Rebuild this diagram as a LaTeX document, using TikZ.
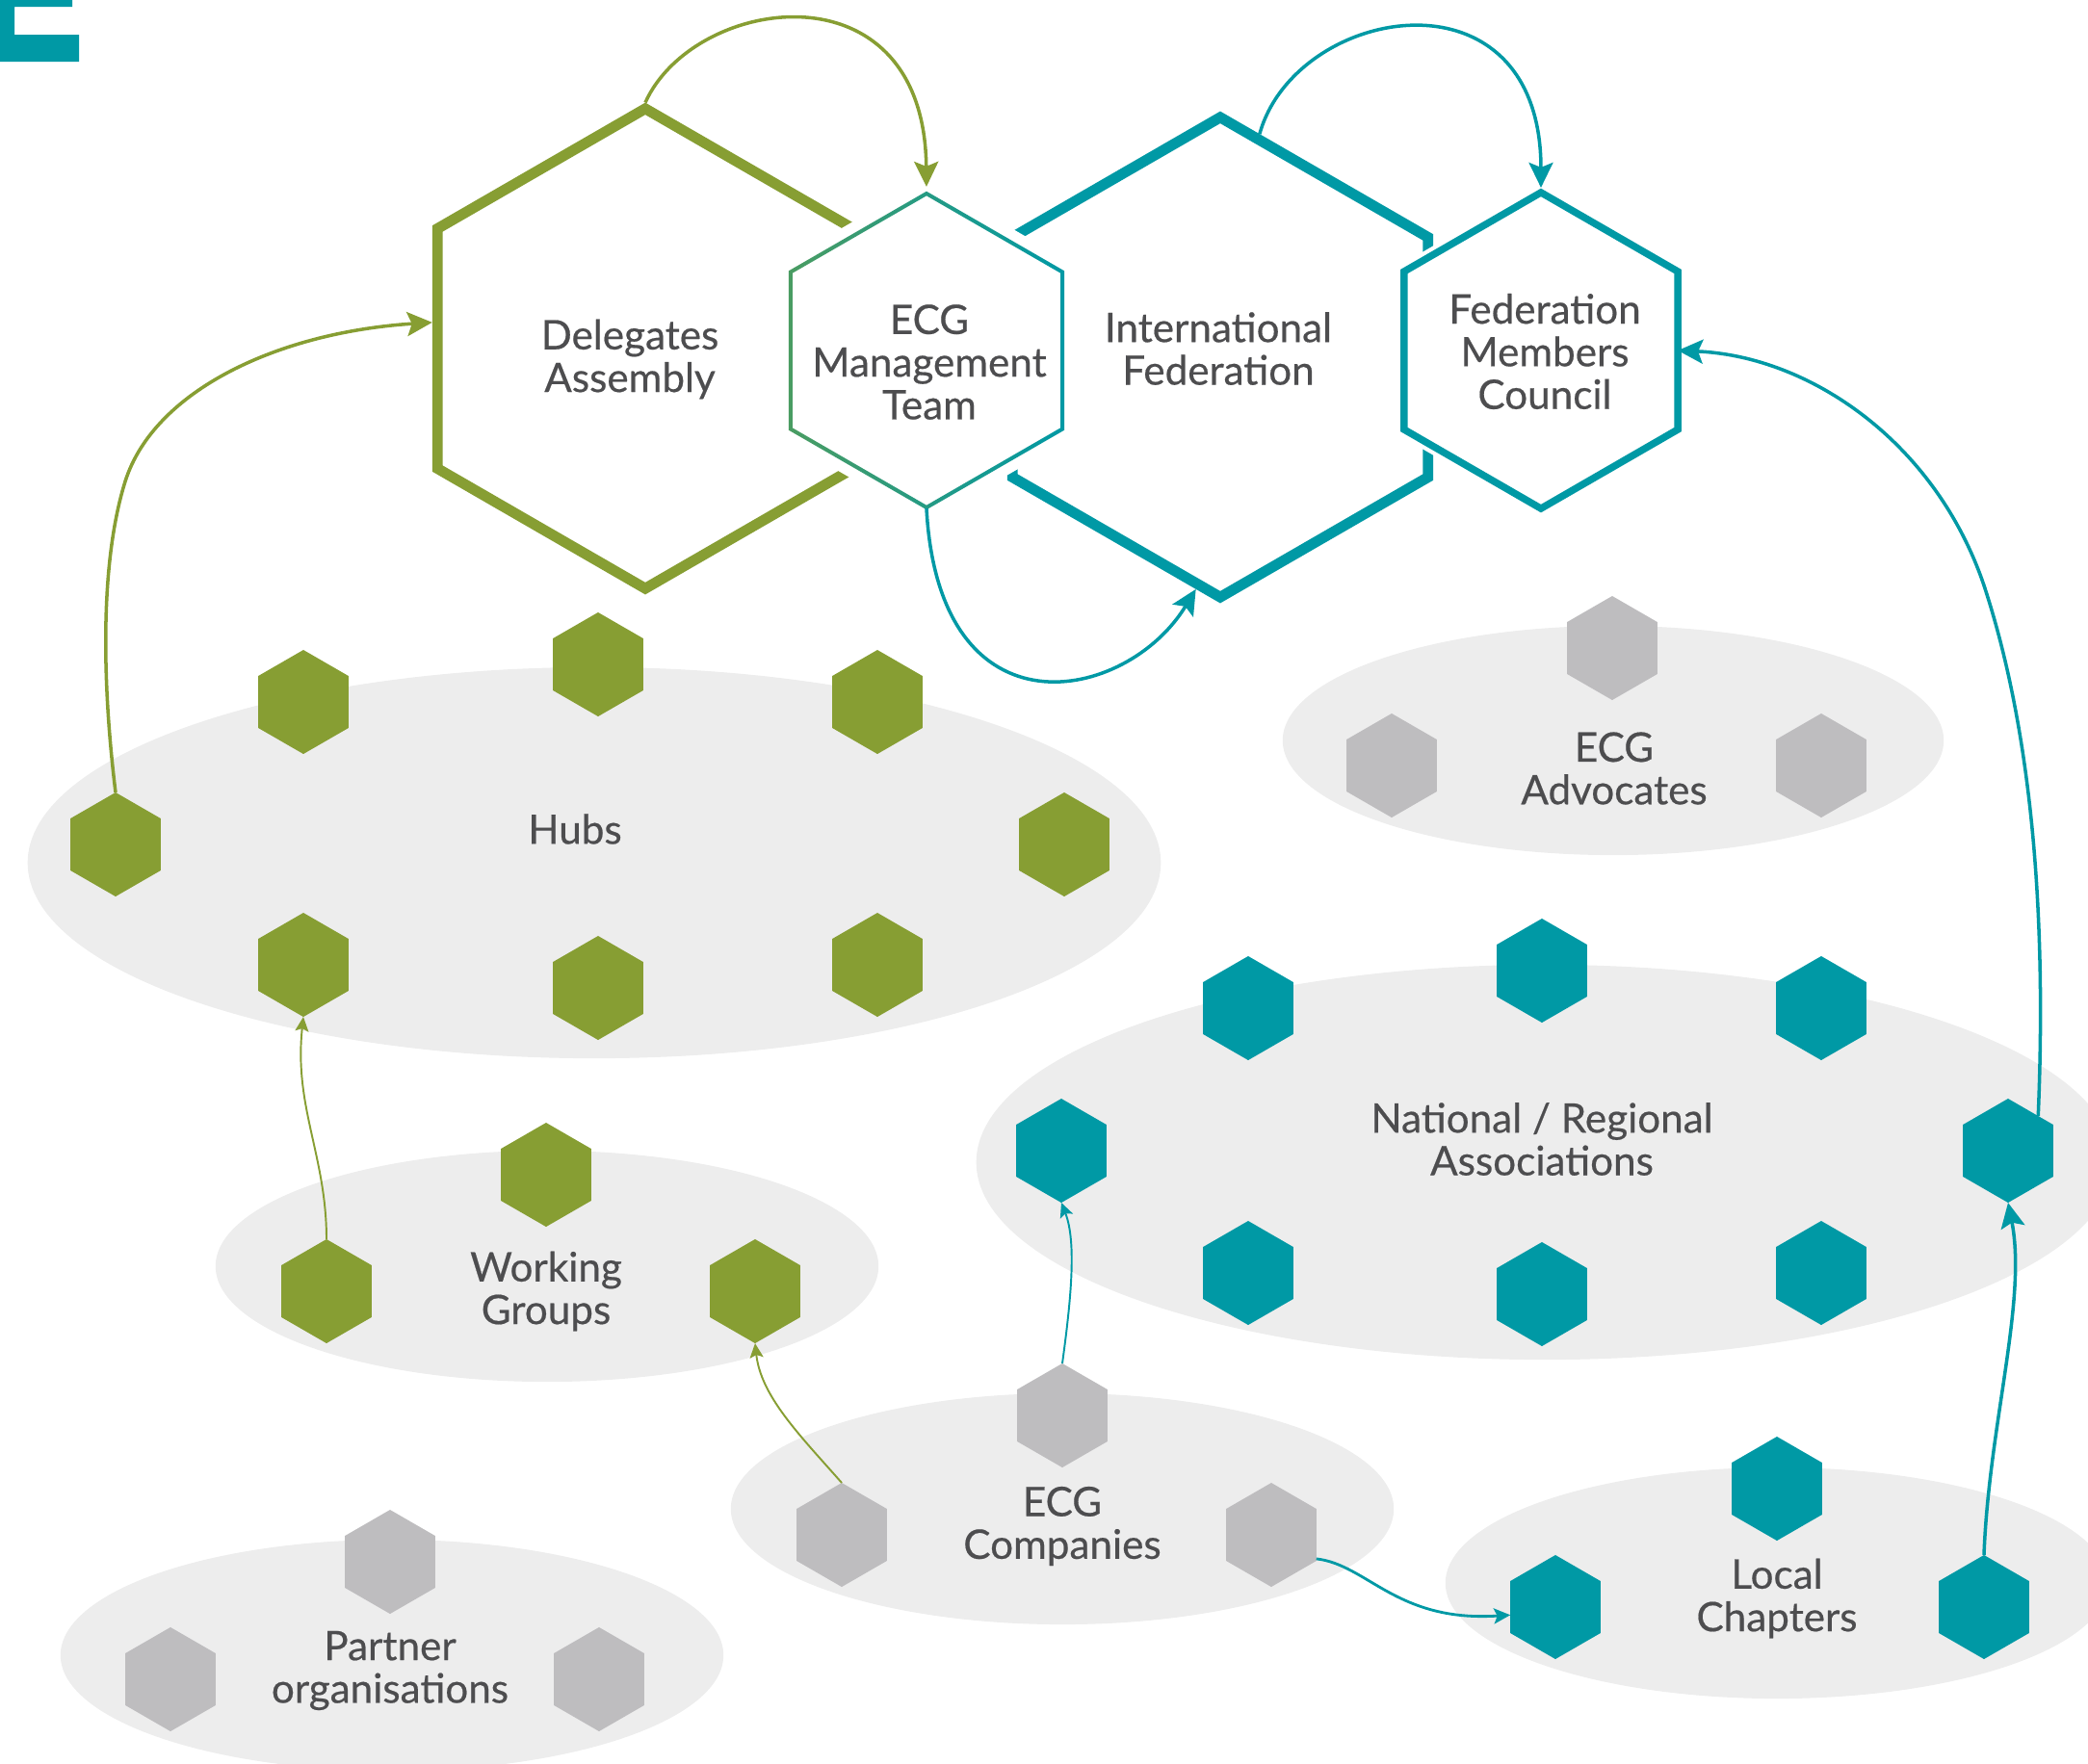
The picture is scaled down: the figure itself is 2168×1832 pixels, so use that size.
\documentclass[tikz,border=0pt]{standalone}
\usepackage{fontspec}
\setmainfont{Lato}[FakeBold=0.45]
\usetikzlibrary{shapes.geometric,arrows.meta}
\definecolor{ecggreen}{HTML}{879E33}
\definecolor{ecgteal}{HTML}{0099A5}
\definecolor{ecggray}{HTML}{BEBDBF}
\definecolor{ecgbg}{HTML}{EDEDED}
\definecolor{ecgtext}{HTML}{4D4D4F}
\definecolor{ecgmixL}{HTML}{4A9C62}
\definecolor{ecgmixM}{HTML}{35A07E}
\begin{document}
\begin{tikzpicture}[x=0.01cm,y=-0.01cm,
  hexbase/.style={regular polygon, regular polygon sides=6, shape border rotate=30, inner sep=0pt, outer sep=0pt},
  smallhex/.style={hexbase, minimum size=1.08cm, draw=none},
  hgreen/.style={smallhex, fill=ecggreen},
  hteal/.style={smallhex, fill=ecgteal},
  hgray/.style={smallhex, fill=ecggray},
  grp/.style={ellipse, fill=ecgbg, draw=none, inner sep=0pt, minimum width=6.88cm, minimum height=2.4cm},
  lbl/.style={text=ecgtext, align=center, font=\fontsize{12}{12.6}\selectfont, inner sep=0pt},
  arr/.style={line width=1pt, -{Stealth[length=0.26cm,width=0.25cm,inset=0.05cm]}},
  arrm/.style={line width=0.8pt, -{Stealth[length=0.17cm,width=0.16cm,inset=0.035cm]}},
  arrs/.style={line width=0.55pt, -{Stealth[length=0.15cm,width=0.14cm,inset=0.03cm]}},
]
\useasboundingbox (0,0) rectangle (2168,1832);

% corner mark
\fill[ecgteal] (0,0) -- (75,0) -- (75,7) -- (15,7) -- (15,36) -- (82,36) -- (82,64) -- (0,64) -- cycle;

% group ellipses
\node[grp, minimum width=11.76cm, minimum height=4.06cm] (hubs) at (617,896) {};
\node[grp, minimum width=6.86cm, minimum height=2.38cm] (adv) at (1675,769) {};
\node[grp, minimum width=11.8cm, minimum height=4.1cm] (nat) at (1604,1207) {};
\node[grp] (wg) at (568,1315) {};
\node[grp] (comp) at (1103,1567) {};
\node[grp] (loc) at (1845,1644) {};
\node[grp] (part) at (407,1719) {};

% hubs
\node[hgreen] (h1) at (315,729) {};
\node[hgreen] (h2) at (621,690) {};
\node[hgreen] (h3) at (911,729) {};
\node[hgreen] (h4) at (120,877) {};
\node[hgreen] (h5) at (1105,877) {};
\node[hgreen] (h6) at (315,1002) {};
\node[hgreen] (h7) at (621,1026) {};
\node[hgreen] (h8) at (911,1002) {};
% advocates
\node[hgray] (a1) at (1674,673) {};
\node[hgray] (a2) at (1445,795) {};
\node[hgray] (a3) at (1891,795) {};
% national
\node[hteal] (n1) at (1296,1047) {};
\node[hteal] (n2) at (1601,1008) {};
\node[hteal] (n3) at (1891,1047) {};
\node[hteal] (n4) at (1102,1195) {};
\node[hteal] (n5) at (2085,1195) {};
\node[hteal] (n6) at (1296,1322) {};
\node[hteal] (n7) at (1601,1344) {};
\node[hteal] (n8) at (1891,1322) {};
% working groups
\node[hgreen] (w1) at (567,1220) {};
\node[hgreen] (w2) at (339,1341) {};
\node[hgreen] (w3) at (784,1341) {};
% companies
\node[hgray] (c1) at (1103,1470) {};
\node[hgray] (c2) at (874,1594) {};
\node[hgray] (c3) at (1320,1594) {};
% local chapters
\node[hteal] (l1) at (1845,1546) {};
\node[hteal] (l2) at (1615,1669) {};
\node[hteal] (l3) at (2060,1669) {};
% partners
\node[hgray] (p1) at (405,1622) {};
\node[hgray] (p2) at (177,1744) {};
\node[hgray] (p3) at (622,1744) {};

% big hexagons
\node[hexbase, minimum size=4.98cm, draw=ecggreen, line width=3.1pt, fill=white, outer sep=1.55pt] (DA) at (670,362) {};
\node[hexbase, minimum size=4.98cm, draw=ecgteal, line width=3.1pt, fill=white, outer sep=1.55pt] (IF) at (1267,371) {};
\node[hexbase, minimum size=3.28cm, draw=white, line width=6.8pt, fill=white] (ECG) at (962,364) {};
\begin{scope}[shift={(962,364)}]
\shade[even odd rule, left color=ecgmixL, middle color=ecgmixM, right color=ecgteal]
  (90:165.3) -- (150:165.3) -- (210:165.3) -- (270:165.3) -- (330:165.3) -- (30:165.3) -- cycle
  (90:160.7) -- (150:160.7) -- (210:160.7) -- (270:160.7) -- (330:160.7) -- (30:160.7) -- cycle;
\end{scope}
\node[hexbase, minimum size=3.28cm, draw=white, line width=4.5pt, fill=white] (FMCbg) at (1600,364) {};
\node[hexbase, minimum size=3.28cm, draw=ecgteal, line width=2.1pt] (FMC) at (1600,364) {};

% labels
\node[lbl] (tDA) at (654,373) {Delegates\\Assembly};
\node[lbl] (tECG) at (965,376) {ECG\\Management\\Team};
\node[lbl] (tIF) at (1265,362) {International\\Federation};
\node[lbl] (tFMC) at (1604,365) {Federation\\Members\\Council};
\node[lbl] (tHubs) at (597,861) {Hubs};
\node[lbl] (tAdv) at (1676,798) {ECG\\Advocates};
\node[lbl] (tNat) at (1601,1183) {National / Regional\\Associations};
\node[lbl] (tWG) at (567,1341) {Working\\Groups};
\node[lbl] (tComp) at (1103,1585) {ECG\\Companies};
\node[lbl] (tLoc) at (1845,1660) {Local\\Chapters};
\node[lbl] (tPart) at (405,1735) {Partner\\organisations};

% connectors
\draw[arr, ecggreen, shorten >=0.06cm] (DA.north) .. controls (720,-5) and (960,-41) .. (ECG.north);
\draw[arr, ecgteal, shorten >=0.05cm] (IF.80) .. controls (1345,5) and (1600,-40) .. (FMC.north);
\draw[arr, ecgteal] (ECG.south) .. controls (975,770) and (1170,730) .. (IF.264);
\draw[arr, ecggreen] (h4.north) .. controls (105,700) and (105,580) .. (130,500)
   .. controls (160,405) and (290,345) .. (DA.173);
\draw[arr, ecgteal] (n5.49) .. controls (2125,950) and (2110,760) .. (2060,608)
   .. controls (2010,460) and (1880,370) .. (FMC.east);
\draw[arrs, ecggreen] (w2.north) .. controls (339,1200) and (305,1150) .. (h6.south);
\draw[arrs, ecggreen] (c2.north) .. controls (830,1490) and (790,1450) .. (w3.south);
\draw[arrs, ecgteal] (c1.north) .. controls (1112,1350) and (1118,1290) .. (n4.south);
\draw[arrm, ecgteal] (c3.-28) .. controls (1420,1625) and (1450,1685) .. (l2.190);
\draw[arr, ecgteal] (l3.north) .. controls (2065,1480) and (2105,1350) .. (n5.south);
\end{tikzpicture}
\end{document}
